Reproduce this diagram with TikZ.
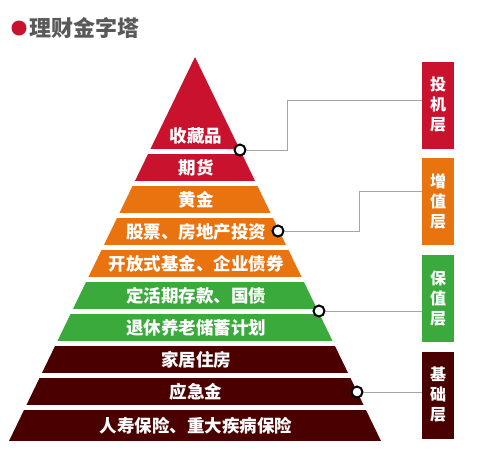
\documentclass[tikz,border=0pt]{standalone}
\usepackage{fontspec}
\setmainfont{Noto Sans CJK SC}
\definecolor{touji}{RGB}{200,18,46}
\definecolor{zengzhi}{RGB}{232,115,15}
\definecolor{baozhi}{RGB}{58,170,60}
\definecolor{jichu}{RGB}{75,0,0}
\tikzset{
  bandtext/.style={text=white,font=\bfseries\fontsize{17.5}{20}\selectfont,inner sep=0pt},
  ring/.style={circle,draw=black,fill=white,line width=2pt,minimum size=11pt,inner sep=0pt},
  layerbox/.style={minimum width=32pt,minimum height=87pt,inner sep=0pt,align=center,
    text=white,font=\bfseries\fontsize{16}{20}\selectfont},
  link/.style={draw=black!35,line width=0.8pt}
}
\begin{document}
\begin{tikzpicture}[x=1pt,y=-1pt]
				\useasboundingbox (0,0) rectangle (479,459);
				% title
				\fill[touji] (19,28) circle (7.5);
				\node[anchor=west,text=black!65,font=\bfseries\fontsize{22}{24}\selectfont,inner sep=0pt] (title) at (29,28) {理财金字塔};
				% pyramid bands
				\begin{scope}
				\clip (195,57) -- (381,441) -- (9,441) -- cycle;
				\foreach \t/\b/\c in {57/149/touji,154/181/touji,186/213/zengzhi,218/245/zengzhi,250/277/zengzhi,
					282/309/baozhi,314/341/baozhi,346/373/jichu,378/405/jichu,410/441/jichu}
				\fill[\c] (0,\t) rectangle (479,\b);
				\end{scope}
				\node[bandtext] (p1) at (196,136) {收藏品};
				\node[bandtext] (p2) at (196,168) {期货};
				\node[bandtext] (p3) at (196,200) {黄金};
				\node[bandtext] (p4) at (196,232) {股票、房地产投资};
				\node[bandtext] (p5) at (196,264) {开放式基金、企业债券};
				\node[bandtext] (p6) at (196,296) {定活期存款、国债};
				\node[bandtext] (p7) at (196,328) {退休养老储蓄计划};
				\node[bandtext] (p8) at (196,360) {家居住房};
				\node[bandtext] (p9) at (196,392) {应急金};
				\node[bandtext] (p10) at (196,426) {人寿保险、重大疾病保险};
				% layer boxes
				\node[layerbox,fill=touji] (b1) at (438,105) {投\\机\\层};
				\node[layerbox,fill=zengzhi] (b2) at (438,201.5) {增\\值\\层};
				\node[layerbox,fill=baozhi] (b3) at (438,298.5) {保\\值\\层};
				\node[layerbox,fill=jichu] (b4) at (438,395) {基\\础\\层};
				% rings
				\node[ring] (c1) at (240,150) {};
				\node[ring] (c2) at (278,231) {};
				\node[ring] (c3) at (319,311) {};
				\node[ring] (c4) at (357,392) {};
				\coordinate (k1) at (287,100);
				\coordinate (k2) at (359,191);
				\draw[link] (c1.east) -| (k1) -- (k1 -| b1.west);
				\draw[link] (c2.east) -| (k2) -- (k2 -| b2.west);
				\draw[link] (c3.east) -- (c3 -| b3.west);
				\draw[link] (c4.east) -- (c4 -| b4.west);
			\end{tikzpicture}
\end{document}
